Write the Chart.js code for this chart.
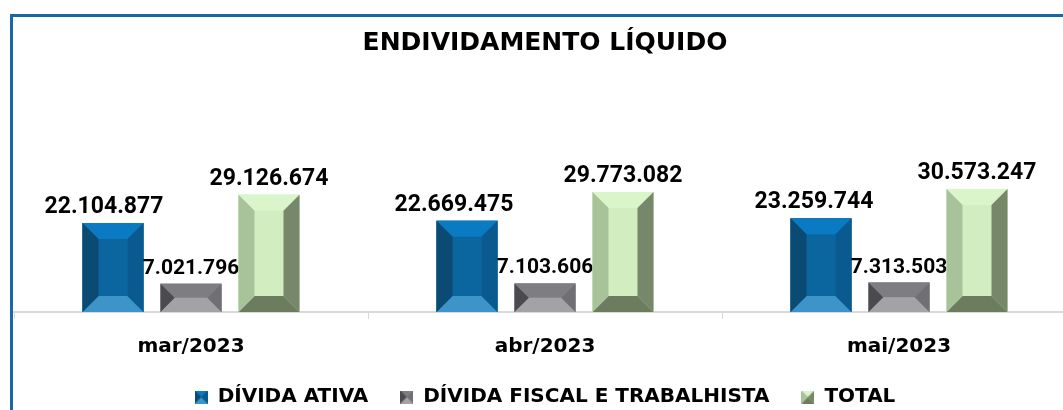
<!DOCTYPE html>
<html>
<head>
<meta charset="utf-8">
<script src="https://cdn.jsdelivr.net/npm/chart.js@4/dist/chart.umd.min.js"></script>
<style>
    html, body { margin: 0; padding: 0; background: #fff; overflow: hidden; }
    #moldura { position: absolute; left: 10px; top: 14px; width: 1200px; height: 600px;
               border-left: 3px solid #1b67a6; border-top: 3px solid #1b67a6; }
    #wrap { position: absolute; left: 0; top: 0; }
</style>
</head>
<body>
<div id="moldura"></div>
<div id="wrap"><canvas id="endividamentoChart" width="1090" height="437"></canvas></div>
<script>
// Dados
const meses = ["mar/2023", "abr/2023", "mai/2023"];
const dividaAtiva = [22104877, 22669475, 23259744];
const dividaFiscal = [7021796, 7103606, 7313503];
const totalGeral = [29126674, 29773082, 30573247];
const nomesSeries = ["DÍVIDA ATIVA", "DÍVIDA FISCAL E TRABALHISTA", "TOTAL"];

// Cores do efeito chanfrado (topo, esquerda, centro, direita, base)
const chanfros = [
    { top: "#0a7bc2", left: "#0b4a72", center: "#0b66a0", right: "#0a5a8f", bottom: "#3d94c9" },
    { top: "#7d7d82", left: "#4a4a4f", center: "#8e8e92", right: "#6f6f74", bottom: "#a3a3a7" },
    { top: "#d9f5c9", left: "#a8c39a", center: "#d2edc0", right: "#76876a", bottom: "#6b7c5f" }
];
// deslocamento horizontal e tamanho dos rótulos (como no original)
const deslocRotulo = [[-9, -13, -7], [0, 0, 0], [0, 0, 0]];
const fonteRotulo = [23, 21, 23];

function formatar(v) {
    return String(v).replace(/\B(?=(\d{3})+(?!\d))/g, ".");
}

function desenhaChanfro(ctx, x1, x2, y1, y2, b, c) {
    ctx.fillStyle = c.center;
    ctx.fillRect(x1, y1, x2 - x1, y2 - y1);
    const faces = [
        [c.top, [[x1, y1], [x2, y1], [x2 - b, y1 + b], [x1 + b, y1 + b]]],
        [c.bottom, [[x1, y2], [x2, y2], [x2 - b, y2 - b], [x1 + b, y2 - b]]],
        [c.left, [[x1, y1], [x1 + b, y1 + b], [x1 + b, y2 - b], [x1, y2]]],
        [c.right, [[x2, y1], [x2 - b, y1 + b], [x2 - b, y2 - b], [x2, y2]]]
    ];
    faces.forEach(function(f) {
        ctx.fillStyle = f[0];
        ctx.beginPath();
        f[1].forEach(function(p, i) { i ? ctx.lineTo(p[0], p[1]) : ctx.moveTo(p[0], p[1]); });
        ctx.closePath();
        ctx.fill();
    });
}

// ícones da legenda
const iconesLegenda = chanfros.map(function(c) {
    let cv = document.createElement("canvas");
    cv.width = 13; cv.height = 13;
    desenhaChanfro(cv.getContext("2d"), 0, 13, 0, 13, 6.5, c);
    return cv;
});

const pluginChanfro = {
    id: "chanfro",
    afterDatasetsDraw(chart) {
        const ctx = chart.ctx;
        ctx.save();
        chart.data.datasets.forEach(function(ds, di) {
            chart.getDatasetMeta(di).data.forEach(function(el, i) {
                const p = el.getProps(["x", "y", "base", "width"], true);
                const x1 = p.x - p.width / 2, x2 = p.x + p.width / 2;
                const h = p.base - p.y;
                const b = Math.min(16, p.width / 2, h / 2);
                desenhaChanfro(ctx, x1, x2, p.y, p.base, b, chanfros[di]);
                ctx.fillStyle = "#000";
                ctx.font = "bold " + fonteRotulo[di] + "px Roboto";
                ctx.textAlign = "center";
                ctx.textBaseline = "alphabetic";
                ctx.fillText(formatar(ds.data[i]), p.x + deslocRotulo[di][i], p.y - 10);
            });
        });
        ctx.restore();
    }
};

// sobe a legenda para ficar mais perto dos rótulos do eixo
const pluginLegenda = {
    id: "legendaPos",
    afterLayout(chart) {
        chart.legend.top -= 20;
        chart.legend.bottom -= 20;
    }
};

let ctx = document.getElementById("endividamentoChart").getContext("2d");
new Chart(ctx, {
    type: "bar",
    data: {
        labels: meses,
        datasets: [
            { label: nomesSeries[0], data: dividaAtiva, backgroundColor: chanfros[0].center },
            { label: nomesSeries[1], data: dividaFiscal, backgroundColor: chanfros[1].center },
            { label: nomesSeries[2], data: totalGeral, backgroundColor: chanfros[2].center }
        ]
    },
    options: {
        responsive: false,
        animation: false,
        devicePixelRatio: 1,
        categoryPercentage: 0.661,
        barPercentage: 0.782,
        layout: { padding: { left: 14, right: 14, top: 0, bottom: 0 } },
        scales: {
            x: {
                grid: { drawOnChartArea: false, drawTicks: true, tickLength: 7, color: "#d9d9d9", lineWidth: 1 },
                border: { display: true, color: "#d9d9d9", width: 2 },
                ticks: { color: "#000", padding: 16, font: { family: "DejaVu Sans", size: 20, weight: "bold" } }
            },
            y: { display: false, min: 0, max: 60600000 }
        },
        plugins: {
            title: {
                display: true,
                text: "ENDIVIDAMENTO LÍQUIDO",
                color: "#000",
                font: { family: "DejaVu Sans", size: 25, weight: "bold" },
                padding: { top: 28, bottom: 10 }
            },
            legend: {
                position: "bottom",
                labels: {
                    usePointStyle: true,
                    boxWidth: 13,
                    boxHeight: 13,
                    padding: 32,
                    color: "#000",
                    font: { family: "DejaVu Sans", size: 20, weight: "bold" },
                    generateLabels: function(chart) {
                        let itens = Chart.defaults.plugins.legend.labels.generateLabels(chart);
                        itens.forEach(function(it, i) { it.pointStyle = iconesLegenda[i]; });
                        return itens;
                    }
                }
            },
            tooltip: { enabled: false }
        }
    },
    plugins: [pluginChanfro, pluginLegenda]
});
</script>
</body>
</html>
